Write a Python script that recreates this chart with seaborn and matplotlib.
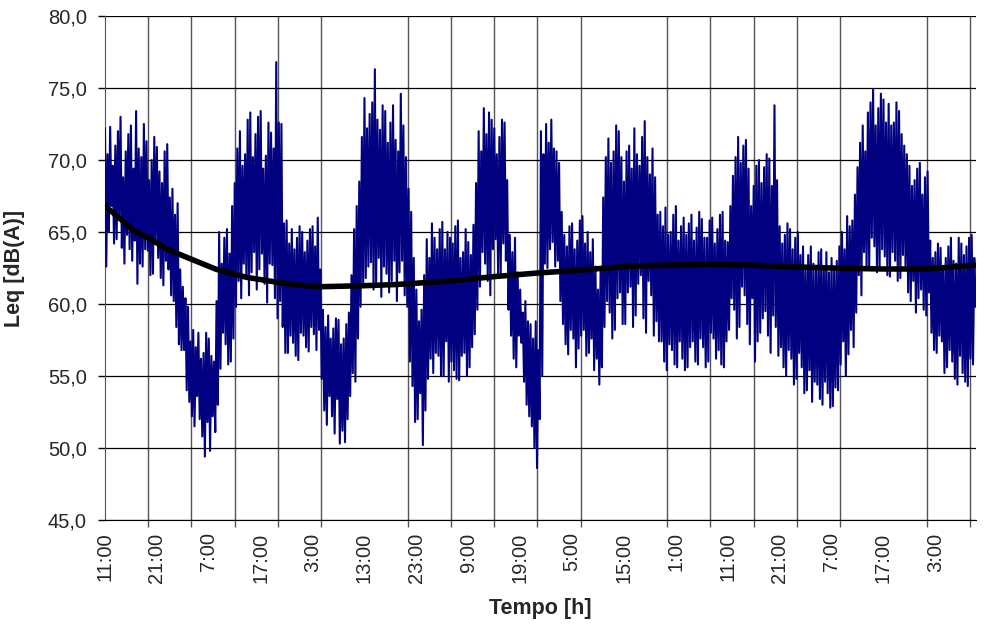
import numpy as np
import pandas as pd
import matplotlib
matplotlib.use("Agg")
import matplotlib.pyplot as plt
import seaborn as sns
from matplotlib.ticker import FixedLocator, FuncFormatter

# Leq readings (dB(A)), hour 0 = 11:00
# first half of each hour: upper / lower value
leq_hi = [72.2, 72.3, 71.0, 73.0, 70.6, 72.4, 73.4, 70.2, 71.3, 70.0,
          70.9, 68.4, 71.1, 68.0, 67.0, 61.2, 59.8, 58.2, 58.0, 56.6,
          57.6, 56.0, 65.0, 64.6, 63.5, 68.4, 72.0, 70.4, 73.3, 71.8,
          73.4, 70.3, 71.9, 76.8, 72.5, 65.8, 65.2, 64.6, 65.0, 64.4,
          65.4, 66.0, 59.6, 59.2, 58.3, 58.9, 57.6, 59.4, 65.2, 68.5,
          74.3, 73.2, 76.3, 72.1, 73.4, 72.6, 71.4, 74.6, 70.2, 66.4,
          61.0, 59.6, 64.5, 65.6, 63.8, 65.7, 65.0, 64.2, 65.8, 63.6,
          64.3, 65.5, 72.0, 73.6, 73.3, 72.2, 71.6, 72.6, 64.8, 64.6,
          61.0, 60.2, 58.6, 58.8, 72.0, 72.5, 72.8, 70.6, 66.4, 64.0,
          65.6, 64.4, 66.1, 65.0, 64.5, 61.0, 67.4, 71.5, 70.6, 72.0,
          68.5, 71.0, 72.2, 69.6, 72.7, 69.0, 68.8, 66.4, 66.7, 65.0,
          66.8, 65.4, 64.8, 66.2, 65.3, 65.9, 64.6, 66.0, 65.2, 66.4,
          64.3, 68.9, 71.6, 71.0, 69.4, 68.2, 70.0, 69.5, 70.1, 73.8,
          65.4, 64.8, 65.2, 64.6, 63.4, 62.6, 64.0, 62.4, 63.8, 63.6,
          63.2, 63.0, 65.0, 66.1, 65.8, 69.5, 72.4, 73.3, 74.9, 73.6,
          74.2, 73.9, 72.6, 73.4, 71.0, 69.6, 68.6, 69.8, 68.8, 64.4,
          63.6, 63.9, 63.2, 64.6, 62.8, 64.2, 64.0, 64.8]
leq_lo = [62.6, 66.8, 64.5, 63.9, 64.8, 63.0, 61.4, 62.6, 63.7, 62.1,
          63.2, 61.3, 62.4, 60.2, 57.2, 56.8, 53.2, 51.5, 52.0, 49.4,
          49.8, 51.1, 55.5, 57.2, 56.0, 59.8, 60.4, 61.8, 62.2, 61.0,
          63.5, 60.1, 62.7, 59.0, 58.4, 56.6, 57.3, 56.1, 57.8, 56.7,
          57.9, 58.2, 52.6, 53.6, 51.0, 50.3, 50.4, 53.6, 54.6, 59.8,
          61.8, 62.9, 61.2, 60.5, 62.1, 61.6, 60.2, 63.0, 59.8, 54.3,
          52.0, 50.2, 54.8, 55.2, 56.4, 55.0, 54.6, 55.4, 54.7, 56.6,
          55.6, 57.9, 61.2, 62.8, 60.6, 64.5, 62.0, 63.0, 57.8, 55.6,
          57.3, 53.0, 51.5, 48.6, 55.0, 62.5, 64.3, 63.0, 58.6, 56.5,
          57.6, 56.9, 58.2, 56.6, 55.4, 54.4, 58.4, 59.4, 58.2, 60.8,
          58.6, 61.2, 59.2, 62.0, 58.0, 60.6, 58.8, 57.4, 55.4, 56.8,
          55.6, 56.2, 55.6, 57.4, 55.8, 57.0, 56.0, 57.6, 56.8, 55.6,
          58.2, 59.6, 58.4, 60.6, 57.2, 56.0, 58.0, 59.5, 56.6, 58.4,
          57.0, 55.0, 56.2, 54.8, 55.6, 54.0, 53.2, 54.4, 53.0, 53.8,
          52.9, 54.0, 57.4, 56.5, 57.0, 62.0, 63.6, 62.5, 64.0, 62.4,
          63.3, 61.9, 63.0, 61.8, 62.6, 60.2, 59.4, 61.0, 59.2, 58.0,
          56.6, 57.4, 55.6, 56.0, 54.4, 55.2, 54.3, 55.8]
# second half of each hour: upper / lower value
leq_hi2 = [70.4, 69.6, 72.0, 68.8, 71.8, 69.4, 70.8, 72.5, 68.6, 71.6,
           69.2, 70.6, 67.4, 66.2, 62.4, 60.4, 57.4, 57.0, 56.2, 58.0,
           56.4, 60.2, 62.8, 65.2, 66.8, 70.8, 69.6, 72.8, 70.2, 73.0,
           69.4, 72.6, 70.8, 72.6, 65.6, 64.2, 63.8, 65.4, 63.6, 65.2,
           64.0, 62.4, 58.4, 57.6, 59.0, 57.2, 58.6, 62.0, 66.8, 71.6,
           72.2, 74.0, 72.8, 73.8, 71.2, 73.8, 70.6, 72.4, 68.0, 63.2,
           58.8, 62.0, 63.2, 64.6, 65.2, 63.8, 64.6, 65.4, 63.2, 65.2,
           63.4, 68.4, 70.6, 71.8, 72.8, 70.4, 72.8, 68.6, 63.6, 62.2,
           59.4, 58.8, 57.6, 56.8, 70.4, 71.2, 70.8, 69.8, 64.8, 65.4,
           63.8, 65.8, 64.2, 63.6, 62.6, 62.4, 70.2, 69.8, 72.4, 70.2,
           70.6, 69.4, 70.4, 71.6, 70.2, 70.8, 66.2, 65.4, 64.8, 66.2,
           64.4, 66.0, 65.6, 64.4, 66.4, 64.6, 65.8, 64.2, 66.2, 64.4,
           66.8, 70.2, 69.8, 71.4, 66.8, 69.6, 68.4, 70.4, 68.2, 68.6,
           64.2, 65.6, 63.8, 65.0, 64.0, 63.4, 62.8, 63.6, 62.6, 62.2,
           62.4, 64.0, 63.8, 65.4, 67.6, 71.2, 70.6, 74.0, 72.4, 74.6,
           72.6, 72.4, 74.0, 71.8, 70.4, 68.2, 69.4, 67.6, 69.2, 63.2,
           64.2, 62.6, 64.0, 63.0, 64.6, 63.4, 64.6, 63.2]
leq_lo2 = [65.0, 64.2, 66.0, 62.8, 63.8, 64.4, 62.8, 63.8, 62.0, 64.2,
           61.8, 63.0, 60.6, 58.4, 56.8, 54.0, 52.2, 53.6, 50.8, 51.8,
           52.2, 53.0, 58.0, 55.8, 57.6, 61.6, 62.8, 60.6, 63.6, 62.4,
           61.4, 62.8, 60.4, 60.2, 56.6, 57.8, 56.4, 58.0, 57.0, 58.4,
           56.8, 54.8, 51.6, 52.2, 53.4, 51.2, 52.0, 55.2, 57.6, 61.4,
           62.6, 61.0, 63.2, 62.6, 60.8, 63.0, 62.2, 60.6, 56.0, 51.8,
           53.8, 52.6, 56.2, 56.6, 55.0, 57.4, 56.0, 54.8, 56.4, 55.0,
           57.0, 59.6, 63.6, 61.6, 63.8, 62.0, 64.2, 59.6, 56.2, 57.8,
           54.6, 52.2, 50.0, 52.0, 62.8, 63.8, 62.6, 60.2, 57.2, 58.2,
           55.6, 57.8, 56.4, 57.6, 56.2, 55.6, 60.2, 57.6, 60.4, 58.6,
           60.8, 58.4, 61.4, 59.0, 61.6, 57.8, 57.4, 56.0, 57.2, 55.8,
           57.4, 55.4, 57.0, 56.0, 57.6, 55.6, 58.0, 56.2, 55.8, 57.4,
           60.4, 57.6, 61.2, 58.6, 60.4, 57.4, 59.0, 57.8, 59.2, 56.4,
           55.6, 56.8, 54.4, 56.6, 53.8, 55.4, 54.6, 53.4, 54.6, 52.8,
           54.2, 55.8, 55.0, 58.2, 59.4, 60.6, 62.4, 64.6, 62.2, 63.8,
           62.0, 63.6, 61.6, 63.4, 60.8, 61.6, 60.4, 59.6, 60.8, 56.8,
           57.8, 55.2, 56.8, 54.8, 56.4, 54.6, 56.2, 59.8]

# running mean curve (black)
mean_hours = [0, 3, 5.5, 8.3, 12, 16.7, 21.5, 27.3, 33.3, 37.4, 41.6, 50, 56,
              66.7, 75, 83.3, 91.7, 100, 108.3, 116.7, 125, 133.3, 141.7,
              150, 158.3, 167.8]
mean_leq = [66.8, 65.9, 65.1, 64.6, 63.8, 63.1, 62.4, 61.85, 61.5, 61.3, 61.2,
            61.27, 61.35, 61.6, 61.9, 62.15, 62.35, 62.6, 62.7, 62.75, 62.7,
            62.57, 62.48, 62.43, 62.43, 62.7]

tick_labels = ["11:00", "21:00", "7:00", "17:00", "3:00", "13:00", "23:00",
               "9:00", "19:00", "5:00", "15:00", "1:00", "11:00", "21:00",
               "7:00", "17:00", "3:00"]

hours = np.arange(len(leq_hi))
series = pd.DataFrame({
    "t": np.concatenate([hours, hours + 0.25, hours + 0.5, hours + 0.75]),
    "leq": np.concatenate([leq_hi, leq_lo, leq_hi2, leq_lo2]),
}).sort_values("t")
trend = pd.DataFrame({"t": mean_hours, "leq": mean_leq})

sns.set_style("white")
plt.rcParams["font.family"] = ["Liberation Sans", "DejaVu Sans"]

fig = plt.figure(figsize=(9.94, 6.27), dpi=100)
ax = fig.add_axes([0.1056, 0.1707, 0.8763, 0.8038])

sns.lineplot(data=series, x="t", y="leq", color="#000080", linewidth=1.5,
             ax=ax, zorder=3)
sns.lineplot(data=trend, x="t", y="leq", color="black", linewidth=4.0,
             ax=ax, zorder=4)

ax.set_xlim(0, 167.83)
ax.set_ylim(45, 80)
ax.set_yticks(np.arange(45, 81, 5))
ax.yaxis.set_major_formatter(FuncFormatter(lambda v, p: f"{v:.1f}".replace(".", ",")))

ax.xaxis.set_major_locator(FixedLocator(np.arange(len(tick_labels)) * 10))
ax.set_xticklabels(tick_labels, rotation=90)
ax.xaxis.set_minor_locator(FixedLocator(np.arange(0, 167, 50 / 6)))

ax.tick_params(axis="x", which="major", length=0, pad=9, labelsize=14.5)
ax.tick_params(axis="x", which="minor", length=5, width=1, color="#555555",
               direction="out", bottom=True)
ax.tick_params(axis="y", length=5, width=1, color="black", direction="out",
               pad=8, labelsize=14.5, left=True)

ax.grid(axis="y", which="major", color="black", linewidth=0.9)
ax.grid(axis="x", which="minor", color="#555555", linewidth=1.0)
ax.grid(axis="x", which="major", visible=False)
ax.set_axisbelow(True)

for side in ["top", "right"]:
    ax.spines[side].set_visible(False)
ax.spines["left"].set_color("#555555")
ax.spines["bottom"].set_color("black")

ax.set_xlabel("Tempo [h]", fontsize=15.5, fontweight="bold")
ax.set_ylabel("Leq [dB(A)]", fontsize=15.5, fontweight="bold")
ax.xaxis.set_label_coords(0.5, -0.155)
ax.yaxis.set_label_coords(-0.092, 0.5)

fig.savefig("out.png", dpi=100)
